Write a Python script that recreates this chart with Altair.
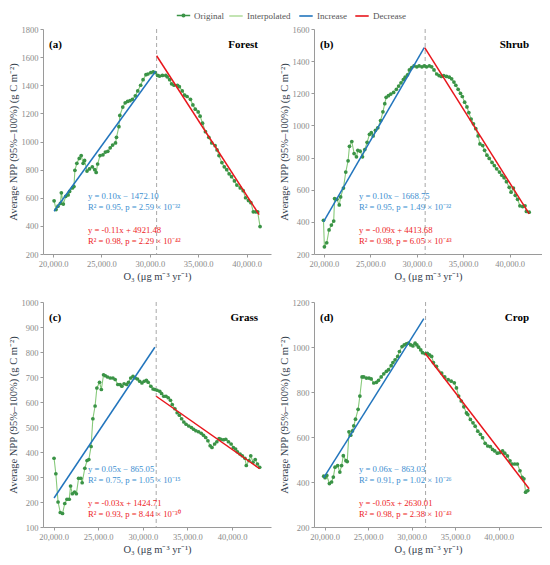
import altair as alt
import pandas as pd

FONT = "'Liberation Serif', 'Times New Roman', serif"

# ---------------- data ----------------
# (a) Forest
a_o3 = [20100, 20300, 20500, 20750, 20850, 21050, 21300, 21550, 21700, 22000,
        22150, 22250, 22450, 22700, 22900, 23100, 23250, 23500, 23750, 24050,
        24300, 24450, 24600, 24850, 25150, 25400, 25650, 25900, 26150, 26450,
        26550, 26800, 26900, 27200, 27450, 27700, 27950, 28200, 28500, 28750,
        29050, 29300, 29600, 29800, 30100, 30350, 30550, 30800, 31000, 31300,
        31650, 31800, 32050, 32250, 32500, 32850, 33050, 33350, 33600, 33850,
        34200, 34450, 34700, 35000, 35200, 35450, 35750, 36100, 36400, 36750,
        36950, 37150, 37450, 37700, 37950, 38200, 38450, 38750, 39000, 39350,
        39650, 39900, 40200, 40450, 40700, 40950, 41150, 41400]
a_npp = [578, 516, 540, 560, 635, 555, 610, 620, 645, 670,
         680, 795, 845, 880, 900, 845, 865, 790, 805, 820,
         800, 780, 840, 900, 905, 925, 930, 955, 975, 990,
         1030, 1105, 1185, 1245, 1275, 1285, 1290, 1300, 1325, 1360,
         1400, 1440, 1475, 1480, 1490, 1495, 1490, 1470, 1465, 1470,
         1470, 1460, 1440, 1410, 1400, 1400, 1390, 1360, 1330, 1320,
         1300, 1260, 1230, 1210, 1180, 1130, 1070, 1030, 990, 970,
         940, 900, 850, 820, 800, 770, 750, 720, 690, 670,
         650, 600, 580, 565, 500, 500, 500, 395]
a_inc_o3, a_inc_npp = [20100, 30600], [504, 1500]
a_dec_o3, a_dec_npp = [30700, 41300], [1610, 480]
a_break = 30700

# (b) Shrub
b_o3 = [19950, 20050, 20300, 20550, 20800, 21050, 21150, 21400, 21650, 21800,
        22100, 22350, 22600, 22750, 23000, 23250, 23500, 23650, 23900, 24150,
        24400, 24650, 24900, 25100, 25300, 25550, 25800, 26100, 26350, 26550,
        26700, 26950, 27200, 27500, 27800, 28050, 28300, 28550, 28750, 29000,
        29200, 29450, 29700, 30000, 30250, 30550, 30800, 31050, 31350, 31600,
        31850, 32150, 32400, 32650, 32900, 33200, 33500, 33750, 34000, 34200,
        34450, 34700, 34900, 35150, 35400, 35600, 35850, 36100, 36350, 36600,
        36800, 37100, 37300, 37550, 37800, 38100, 38350, 38600, 38900, 39150,
        39400, 39650, 39950, 40150, 40400, 40600, 40850, 41100, 41400, 41650,
        41800, 42100]
b_npp = [410, 245, 270, 350, 380, 405, 545, 540, 505, 555,
         610, 710, 780, 870, 900, 825, 805, 845, 840, 805,
         850, 895, 945, 955, 935, 970, 985, 1030, 1085, 1135,
         1175, 1185, 1195, 1205, 1225, 1245, 1265, 1285, 1300, 1315,
         1345, 1360, 1370, 1365, 1370, 1365, 1370, 1365, 1370, 1365,
         1345, 1320, 1310, 1305, 1310, 1305, 1300, 1290, 1270, 1250,
         1225, 1200, 1180, 1145, 1115, 1080, 1040, 1010, 980, 935,
         885, 875, 845, 815, 795, 770, 750, 730, 710, 690,
         675, 650, 615, 585, 610, 565, 540, 500, 495, 500,
         465, 460]
b_inc_o3, b_inc_npp = [19950, 30800], [400, 1484]
b_dec_o3, b_dec_npp = [30850, 42100], [1484, 450]
b_break = 30900

# (c) Grass
c_o3 = [20050, 20250, 20500, 20750, 21000, 21250, 21500, 21750, 21900, 22100,
        22350, 22550, 22800, 23050, 23200, 23500, 23750, 23950, 24200, 24400,
        24650, 24850, 25150, 25350, 25600, 25800, 26050, 26350, 26650, 26900,
        27200, 27450, 27650, 27900, 28200, 28400, 28650, 28900, 29150, 29400,
        29650, 29900, 30150, 30400, 30600, 30900, 31150, 31350, 31600, 31900,
        32100, 32350, 32600, 32850, 33100, 33300, 33600, 33850, 34100, 34350,
        34600, 34850, 35150, 35450, 35700, 35950, 36250, 36550, 36800, 37050,
        37300, 37550, 37750, 38050, 38300, 38550, 38750, 39050, 39300, 39600,
        39900, 40150, 40400, 40600, 40900, 41150, 41450, 41600, 41900, 42100,
        42350, 42600, 42850, 43100]
c_npp = [375, 313, 200, 158, 154, 194, 211, 211, 264, 233,
         240, 233, 295, 295, 277, 335, 366, 370, 422, 533,
         584, 656, 679, 650, 709, 705, 700, 696, 696, 690,
         670, 670, 663, 673, 670, 679, 696, 703, 696, 692,
         683, 676, 683, 687, 679, 663, 652, 650, 647, 643,
         634, 623, 623, 617, 607, 590, 573, 557, 547, 533,
         520, 511, 504, 498, 491, 485, 481, 475, 467, 458,
         445, 425, 418, 432, 441, 454, 451, 449, 451, 441,
         432, 418, 412, 401, 392, 385, 375, 346, 366, 385,
         359, 370, 352, 339]
c_inc_o3, c_inc_npp = [20050, 31350], [216, 819]
c_dec_o3, c_dec_npp = [31500, 43100], [623, 333]
c_break = 31500

# (d) Crop
d_o3 = [19900, 20050, 20250, 20550, 20800, 21000, 21200, 21500, 21750, 21950,
        22150, 22450, 22600, 22800, 23000, 23200, 23350, 23550, 23850, 24050,
        24300, 24500, 24800, 25100, 25350, 25650, 25950, 26200, 26500, 26800,
        27100, 27350, 27650, 27850, 28100, 28400, 28600, 28900, 29150, 29400,
        29650, 29900, 30150, 30400, 30600, 30800, 31050, 31250, 31550, 31800,
        32050, 32300, 32500, 32850, 33450, 33800, 34200, 34550, 34900, 35150,
        35400, 35700, 36000, 36300, 36450, 36750, 37050, 37300, 37600, 37900,
        38150, 38450, 38750, 39050, 39300, 39550, 39850, 40150, 40450, 40700,
        41000, 41300, 41550, 41850, 42150, 42450, 42700, 42900, 43100, 43350]
d_npp = [426, 419, 429, 393, 400, 422, 466, 473, 444, 473,
         517, 495, 491, 623, 608, 627, 650, 679, 723, 782,
         867, 867, 862, 862, 858, 840, 843, 852, 867, 881,
         892, 899, 917, 931, 943, 958, 980, 1002, 1009, 1014,
         1017, 1009, 1005, 1017, 1009, 999, 987, 975, 970, 972,
         965, 958, 931, 914, 884, 867, 855, 848, 841, 818,
         782, 760, 734, 707, 700, 678, 663, 648, 626, 612,
         597, 572, 560, 557, 545, 538, 528, 531, 538, 528,
         516, 494, 480, 480, 480, 450, 421, 414, 355, 362]
d_inc_o3, d_inc_npp = [19900, 31400], [419, 1126]
d_dec_o3, d_dec_npp = [31550, 43500], [972, 370]
d_break = 31600

x_ticks = [20000, 25000, 30000, 35000, 40000]
line_names = ["Interpolated", "Increase", "Decrease"]
line_colors = ["#b4dea0", "#2275bd", "#e8161c"]
point_name = "Original"
point_color = "#3a9346"

X_TITLE = "O\u2083 (\u03bcg m\u207b\u00b3 yr\u207b\u00b9)"
Y_TITLE = "Average NPP (95%\u2013100%) (g C m\u207b\u00b2)"

W, H = 228, 225

# legend symbol for "Original": a short line with a dot on it
DOT_LINE = "M-1,0H1M0.2,0A0.2,0.2,0,1,1,-0.2,0A0.2,0.2,0,1,1,0.2,0Z"

LEG_COMMON = dict(orient="none", legendY=-21, direction="horizontal", title=None,
                  labelFont=FONT, labelFontSize=9, labelColor="#555555",
                  columnPadding=5, labelOffset=3, padding=0)
LEGEND_LINES = alt.Legend(legendX=185, symbolType="stroke", symbolSize=180,
                          symbolStrokeWidth=1.6, **LEG_COMMON)
LEGEND_POINT = alt.Legend(legendX=133, symbolSize=180, symbolStrokeWidth=1.4,
                          symbolStrokeColor=point_color, symbolFillColor=point_color,
                          **LEG_COMMON)


def text_layer(txt, px, py, color="#000000", size=8.7, align="left", weight="normal"):
    return alt.Chart(pd.DataFrame({"t": [txt]})).mark_text(
        font=FONT, fontSize=size, color=color, align=align, baseline="middle",
        fontWeight=weight
    ).encode(x=alt.value(px), y=alt.value(py), text="t:N")


def panel(o3, npp, inc_o3, inc_npp, dec_o3, dec_npp, brk, xdom, ydom, yticks,
          tag, name, eqs):
    df = pd.DataFrame({"o3": o3, "npp": npp, "kind": [point_name] * len(o3)})
    trend = pd.DataFrame({"o3": inc_o3 + dec_o3, "npp": inc_npp + dec_npp,
                          "series": ["Increase"] * 2 + ["Decrease"] * 2})
    xenc = alt.X("o3:Q", scale=alt.Scale(domain=xdom, nice=False, zero=False),
                 axis=alt.Axis(values=x_ticks, format=",.1f", title=X_TITLE))
    yenc = alt.Y("npp:Q", scale=alt.Scale(domain=ydom, nice=False, zero=False),
                 axis=alt.Axis(values=yticks, format="d", title=Y_TITLE))
    line = alt.Chart(df).mark_line(color="#86c97a", strokeWidth=1.1).encode(x=xenc, y=yenc)
    pts = alt.Chart(df).mark_circle(color=point_color, size=14, opacity=1).encode(x=xenc, y=yenc)
    # empty layer that only carries the "Original" legend entry
    pts_legend = alt.Chart(df).transform_filter("false").mark_point(
        filled=False, color=point_color, strokeWidth=1.4, size=180, opacity=1).encode(
        x=xenc, y=yenc,
        shape=alt.Shape("kind:N", scale=alt.Scale(domain=[point_name], range=[DOT_LINE]),
                        legend=LEGEND_POINT))
    fit = alt.Chart(trend).mark_line(strokeWidth=1.5).encode(
        x=xenc, y=yenc,
        color=alt.Color("series:N", scale=alt.Scale(domain=line_names, range=line_colors),
                        legend=LEGEND_LINES))
    rule = alt.Chart(pd.DataFrame({"o3": [brk]})).mark_rule(
        color="#a8a8a8", strokeDash=[4, 3], strokeWidth=1).encode(x=alt.X("o3:Q"))
    blue, red = "#3b8ed0", "#ee1c25"
    texts = [
        text_layer(tag, 6, 16, size=11, weight="bold"),
        text_layer(name, W - 13, 16, size=11, align="right", weight="bold"),
        text_layer(eqs[0], 45, 166.5, color=blue),
        text_layer(eqs[1], 45, 177.5, color=blue),
        text_layer(eqs[2], 45, 200.5, color=red),
        text_layer(eqs[3], 45, 211.5, color=red),
    ]
    return alt.layer(rule, line, pts, pts_legend, fit, *texts).properties(width=W, height=H)


pa = panel(a_o3, a_npp, a_inc_o3, a_inc_npp, a_dec_o3, a_dec_npp, a_break,
           [18950, 42530], [200, 1800], list(range(200, 1801, 200)), "(a)", "Forest",
           ["y = 0.10x \u2212 1472.10", "R\u00b2 = 0.95, p = 2.59 \u00d7 10\u207b\u00b3\u00b2",
            "y = -0.11x + 4921.48", "R\u00b2 = 0.98, p = 2.29 \u00d7 10\u207b\u2074\u00b2"])
pb = panel(b_o3, b_npp, b_inc_o3, b_inc_npp, b_dec_o3, b_dec_npp, b_break,
           [18930, 43480], [200, 1600], list(range(200, 1601, 200)), "(b)", "Shrub",
           ["y = 0.10x \u2212 1668.75", "R\u00b2 = 0.95, p = 1.49 \u00d7 10\u207b\u00b3\u00b2",
            "y = -0.09x + 4413.68", "R\u00b2 = 0.98, p = 6.05 \u00d7 10\u207b\u2074\u00b3"])
pc = panel(c_o3, c_npp, c_inc_o3, c_inc_npp, c_dec_o3, c_dec_npp, c_break,
           [18810, 44370], [100, 1000], list(range(100, 1001, 100)), "(c)", "Grass",
           ["y = 0.05x \u2212 865.05", "R\u00b2 = 0.75, p = 1.05 \u00d7 10\u207b\u00b9\u2075",
            "y = -0.03x + 1424.71", "R\u00b2 = 0.93, p = 8.44 \u00d7 10\u207b\u00b3\u2070"])
pd_ = panel(d_o3, d_npp, d_inc_o3, d_inc_npp, d_dec_o3, d_dec_npp, d_break,
            [18780, 44980], [200, 1200], list(range(200, 1201, 200)), "(d)", "Crop",
            ["y = 0.06x \u2212 863.03", "R\u00b2 = 0.91, p = 1.02 \u00d7 10\u207b\u00b2\u2076",
             "y = -0.05x + 2630.01", "R\u00b2 = 0.98, p = 2.38 \u00d7 10\u207b\u2074\u00b3"])

chart = alt.vconcat(
    alt.hconcat(pa, pb, spacing=8),
    alt.hconcat(pc, pd_, spacing=8),
    spacing=16,
).properties(
    padding={"left": 0, "top": 0, "right": 0, "bottom": 0}
).configure_view(stroke=None).configure_axis(
    grid=False, domainColor="#9a9a9a", tickColor="#9a9a9a", tickSize=3,
    labelFont=FONT, labelFontSize=8.5, labelColor="#8a8a8a", labelPadding=2,
    titleFont=FONT, titleFontSize=10.5, titleFontWeight="normal", titleColor="#34404d",
).configure_axisY(titlePadding=3).configure_axisX(titlePadding=4)

chart.save("out.html", embed_options={"renderer": "svg", "actions": False})
